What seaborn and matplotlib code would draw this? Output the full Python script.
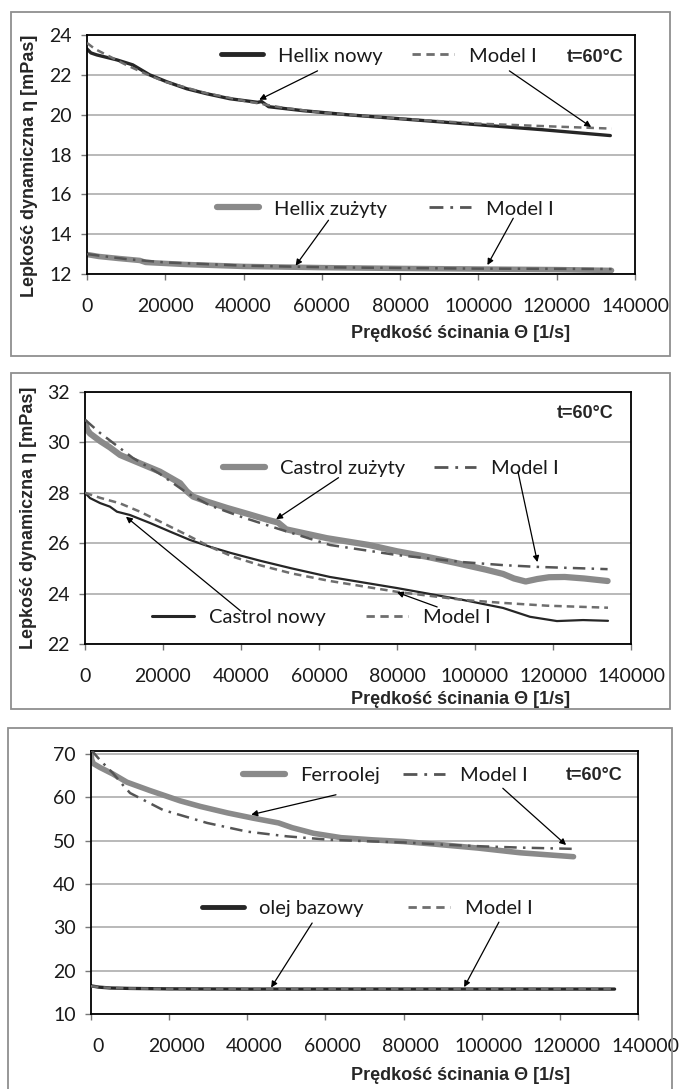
import numpy as np
import pandas as pd
import matplotlib
matplotlib.use("Agg")
import matplotlib.pyplot as plt
import matplotlib.transforms as mtransforms
import seaborn as sns
from matplotlib.lines import Line2D
from matplotlib.legend import Legend
from matplotlib.patches import Rectangle

# ---------------- data ----------------
x_ticks = [0, 20000, 40000, 60000, 80000, 100000, 120000, 140000]
x_tick_labels = ["0", "20000", "40000", "60000", "80000", "100000", "120000", "140000"]

# Panel 1 - Hellix
hn_x = [0, 1000, 2500, 7650, 11700, 16000, 20400, 25500, 30600, 36500, 43600, 44600, 46400,
        55200, 66300, 82900, 99500, 116000, 133700]
hn_y = [23.3, 23.1, 23.0, 22.75, 22.5, 22.0, 21.65, 21.3, 21.05, 20.8, 20.62, 20.66, 20.4,
        20.2, 20.0, 19.75, 19.5, 19.25, 18.95]
hn_mx = [0, 2000, 5000, 10000, 15000, 20000, 30000, 40000, 50000, 60000, 80000, 100000, 120000, 134000]
hn_my = [23.6, 23.3, 23.0, 22.5, 22.05, 21.65, 21.1, 20.7, 20.35, 20.1, 19.8, 19.55, 19.4, 19.3]

hz_x = [0, 3000, 8000, 13500, 15000, 25000, 40000, 60000, 80000, 100000, 120000, 134000]
hz_y = [12.98, 12.88, 12.78, 12.68, 12.58, 12.48, 12.38, 12.32, 12.28, 12.25, 12.22, 12.18]
hz_mx = [0, 10000, 20000, 40000, 60000, 80000, 100000, 134000]
hz_my = [13.0, 12.75, 12.58, 12.42, 12.34, 12.3, 12.27, 12.25]

# Panel 2 - Castrol
cz_x = [0, 600, 1300, 3900, 6400, 9000, 14100, 19200, 24400, 26100, 27700, 31300, 36400, 42000, 47000,
        49500, 51600, 62000, 72800, 80000, 88000, 95000, 102800, 107200, 110000, 113000, 116000,
        119000, 123000, 128000, 134000]
cz_y = [30.8, 30.5, 30.35, 30.05, 29.8, 29.5, 29.17, 28.84, 28.38, 28.06, 27.85, 27.65, 27.4, 27.15, 26.92,
        26.82, 26.55, 26.2, 25.93, 25.68, 25.45, 25.22, 24.95, 24.78, 24.6, 24.48, 24.58,
        24.65, 24.66, 24.6, 24.5]
cz_mx = [0, 3900, 12300, 19200, 26100, 32000, 40000, 50000, 62800, 80000, 96900, 107200, 116000, 134000]
cz_my = [30.9, 30.37, 29.38, 28.75, 28.0, 27.5, 27.05, 26.55, 25.93, 25.53, 25.25, 25.13, 25.06, 24.97]

cn_x = [0, 1300, 3900, 6400, 8200, 11500, 16700, 21800, 26900, 32000, 37200, 45000, 53000, 62800,
        80000, 96900, 107200, 114100, 121000, 127700, 134100]
cn_y = [28.0, 27.79, 27.59, 27.45, 27.25, 27.12, 26.8, 26.46, 26.13, 25.86, 25.62, 25.3, 25.0, 24.66,
        24.22, 23.75, 23.43, 23.08, 22.91, 22.95, 22.92]
cn_mx = [0, 3900, 9000, 14100, 20000, 26100, 32000, 38000, 45000, 53000, 62800, 80000, 96900,
         107200, 118500, 134100]
cn_my = [28.0, 27.8, 27.58, 27.25, 26.8, 26.33, 25.86, 25.46, 25.12, 24.8, 24.5, 24.07, 23.75,
         23.63, 23.52, 23.44]

# Panel 3 - Ferroolej
fe_x = [0, 150, 600, 2300, 5600, 9200, 15000, 22800, 28000, 35000, 41500, 48000, 51500, 57000,
        64000, 72000, 80000, 88000, 99000, 110000, 123500]
fe_y = [71.0, 68.8, 67.8, 66.9, 65.4, 63.5, 61.6, 59.2, 57.9, 56.4, 55.2, 54.1, 53.0, 51.7,
        50.7, 50.2, 49.8, 49.2, 48.3, 47.2, 46.3]
fe_mx = [0, 2300, 5600, 8400, 10000, 18400, 29700, 39900, 50200, 61200, 70000, 80000, 90000,
         100000, 110000, 124000]
fe_my = [71.0, 68.6, 65.6, 62.6, 61.0, 57.1, 54.1, 52.1, 51.0, 50.2, 49.9, 49.6, 49.1,
         48.7, 48.4, 48.1]

ob_x = [0, 2000, 5000, 10000, 20000, 40000, 80000, 134000]
ob_y = [16.5, 16.2, 16.0, 15.9, 15.8, 15.75, 15.75, 15.75]
ob_mx = [0, 5000, 10000, 20000, 40000, 80000, 134000]
ob_my = [16.4, 16.0, 15.9, 15.8, 15.75, 15.75, 15.75]

y_label = "Lepkość dynamiczna η [mPas]"
x_label = "Prędkość ścinania Θ [1/s]"
temp_label = "t=60°C"
model_label = "Model I"

# ---------------- style ----------------
sns.set_theme(style="white")
plt.rcParams['font.family'] = ['Lato', 'DejaVu Sans']

W, H = 680, 1089
fig = plt.figure(figsize=(W / 100, H / 100), dpi=100)
fig.patch.set_facecolor("white")

THICK_GRAY = "#8a8a8a"
DARK = "#262626"
MODEL_DASH = "#6e6e6e"
MODEL_DD = "#555555"
GRID = "#a6a6a6"

BOLD = dict(family=['Liberation Sans', 'DejaVu Sans'], weight='bold', size=13)
LEG_SIZE = 14.5
TICK_SIZE = 14


def frac_axes(left, right, top, bottom):
    return [left / W, 1 - bottom / H, (right - left) / W, (bottom - top) / H]


def make_axes(box, ylim, yticks):
    ax = fig.add_axes(frac_axes(*box))
    ax.set_xlim(0, 140000)
    ax.set_ylim(*ylim)
    ax.set_xticks(x_ticks)
    ax.set_xticklabels(x_tick_labels)
    ax.set_yticks(yticks)
    ax.set_yticklabels([str(v) for v in yticks])
    ax.yaxis.grid(True, color=GRID, lw=1.1)
    ax.xaxis.grid(False)
    ax.set_axisbelow(True)
    for s in ax.spines.values():
        s.set_color("black")
        s.set_linewidth(1.3)
    ax.tick_params(axis='x', direction='out', length=4, width=1, color='#777777',
                   pad=13, labelsize=TICK_SIZE, labelcolor='#1a1a1a', bottom=True)
    ax.tick_params(axis='y', direction='out', length=4, width=1, color='#777777',
                   pad=7, labelsize=TICK_SIZE, labelcolor='#1a1a1a', left=True)
    ax.set_xlabel("")
    ax.set_ylabel("")
    return ax


def line(ax, xs, ys, color, lw, dashes=None, z=2):
    df = pd.DataFrame({"x": xs, "y": ys})
    kw = dict(color=color, lw=lw, zorder=z, estimator=None, sort=False)
    if dashes is not None:
        kw["dashes"] = False
        l = sns.lineplot(data=df, x="x", y="y", ax=ax, **kw)
        l.get_lines()[-1].set_dashes(dashes)
        l.get_lines()[-1].set_dash_capstyle("butt")
    else:
        sns.lineplot(data=df, x="x", y="y", ax=ax, solid_capstyle='round',
                     solid_joinstyle='round', **kw)
    ax.set_xlabel("")
    ax.set_ylabel("")


def entry(ax, x_px, y_px, handle, label):
    leg = Legend(ax, [handle], [label], loc='center left',
                 bbox_to_anchor=(x_px / W, 1 - y_px / H), bbox_transform=fig.transFigure,
                 frameon=False, handlelength=2.1, handletextpad=0.72, borderpad=0,
                 borderaxespad=0, prop=dict(size=LEG_SIZE))
    for t in leg.get_texts():
        t.set_color("#1a1a1a")
    ax.add_artist(leg)


def arrow(ax, start, end):
    ax.annotate("", xy=end, xytext=start,
                arrowprops=dict(arrowstyle='-|>', color='black', lw=0.9,
                                mutation_scale=9, shrinkA=0, shrinkB=0), zorder=6)


def frame(x0, y0, x1, y1):
    fig.patches.append(Rectangle((x0 / W, 1 - y1 / H), (x1 - x0) / W, (y1 - y0) / H,
                                 transform=fig.transFigure, fill=False,
                                 edgecolor="#8f8f8f", lw=1.3))


h_thick = lambda: Line2D([], [], color=THICK_GRAY, lw=4.5, solid_capstyle='round')
h_dark = lambda lw=3.0: Line2D([], [], color=DARK, lw=lw)
h_dash = lambda: Line2D([], [], color=MODEL_DASH, lw=2.0, dashes=(3, 2))
h_dd = lambda: Line2D([], [], color=MODEL_DD, lw=2.0, dashes=(5, 2.5, 1, 2.5))

# ---------------- panel 1 ----------------
frame(11, 12, 670, 356)
ax1 = make_axes((87, 635, 35, 274), (12, 24), [12, 14, 16, 18, 20, 22, 24])
line(ax1, hz_x, hz_y, THICK_GRAY, 4.0)
line(ax1, hz_mx, hz_my, MODEL_DD, 1.8, dashes=(5, 2.5, 1, 2.5), z=3)
line(ax1, hn_x, hn_y, DARK, 2.4)
line(ax1, hn_mx, hn_my, MODEL_DASH, 1.8, dashes=(3, 2), z=3)
entry(ax1, 221, 56, h_dark(3.5), "Hellix nowy")
entry(ax1, 412, 56, h_dash(), model_label)
entry(ax1, 217, 209, h_thick(), "Hellix zużyty")
entry(ax1, 429, 209, h_dd(), model_label)
fig.text(595 / W, 1 - 58 / H, temp_label, ha='center', va='center', **BOLD)
arrow(ax1, (58900, 22.2), (44000, 20.75))
arrow(ax1, (107900, 22.2), (128800, 19.38))
arrow(ax1, (61700, 14.7), (53300, 12.42))
arrow(ax1, (108900, 14.8), (102300, 12.45))
fig.text(30 / W, 1 - 166 / H, y_label, rotation=90, ha='center', va='center', **BOLD)
fig.text(461 / W, 1 - 333 / H, x_label, ha='center', va='center', **BOLD)

# ---------------- panel 2 ----------------
frame(11, 373, 670, 709)
ax2 = make_axes((85, 631, 392, 644), (22, 32), [22, 24, 26, 28, 30, 32])
line(ax2, cz_x, cz_y, THICK_GRAY, 4.5)
line(ax2, cz_mx, cz_my, MODEL_DD, 1.8, dashes=(5, 2.5, 1, 2.5), z=3)
line(ax2, cn_x, cn_y, DARK, 1.6)
line(ax2, cn_mx, cn_my, MODEL_DASH, 1.8, dashes=(3, 2), z=3)
entry(ax2, 223, 468, h_thick(), "Castrol zużyty")
entry(ax2, 434, 468, h_dd(), model_label)
entry(ax2, 152, 617, h_dark(2.2), "Castrol nowy")
entry(ax2, 366, 617, h_dash(), model_label)
fig.text(585 / W, 1 - 413 / H, temp_label, ha='center', va='center', **BOLD)
arrow(ax2, (65000, 28.6), (49000, 26.95))
arrow(ax2, (111000, 28.85), (116000, 25.25))
arrow(ax2, (40000, 23.3), (10500, 27.05))
arrow(ax2, (90300, 23.47), (80000, 24.05))
fig.text(29 / W, 1 - 518 / H, y_label, rotation=90, ha='center', va='center', **BOLD)
fig.text(461 / W, 1 - 699 / H, x_label, ha='center', va='center', **BOLD)

# ---------------- panel 3 ----------------
frame(8, 728, 672, 1100)
ax3 = make_axes((91, 638, 751, 1014), (10, 70.7), [10, 20, 30, 40, 50, 60, 70])
line(ax3, fe_x, fe_y, THICK_GRAY, 4.0)
line(ax3, fe_mx, fe_my, MODEL_DD, 1.8, dashes=(5, 2.5, 1, 2.5), z=3)
line(ax3, ob_x, ob_y, DARK, 2.4)
line(ax3, ob_mx, ob_my, MODEL_DASH, 1.8, dashes=(3, 2), z=3)
entry(ax3, 243, 775, h_thick(), "Ferroolej")
entry(ax3, 403, 775, h_dd(), model_label)
entry(ax3, 202, 908, h_dark(3.5), "olej bazowy")
entry(ax3, 408, 908, h_dash(), model_label)
fig.text(594 / W, 1 - 775 / H, temp_label, ha='center', va='center', **BOLD)
arrow(ax3, (62700, 60.6), (41000, 56.0))
arrow(ax3, (105400, 62.1), (121600, 49.0))
arrow(ax3, (56600, 31.0), (46100, 16.1))
arrow(ax3, (104400, 31.2), (95500, 16.2))
fig.text(461 / W, 1 - 1076 / H, x_label, ha='center', va='center', **BOLD)

# the bottom panel's tick labels sit a few pixels to the right in the original
shift = mtransforms.ScaledTranslation(7 / 100, 0, fig.dpi_scale_trans)
for lab in ax3.get_xticklabels():
    lab.set_transform(lab.get_transform() + shift)

fig.savefig("out.png", dpi=100, facecolor="white")
